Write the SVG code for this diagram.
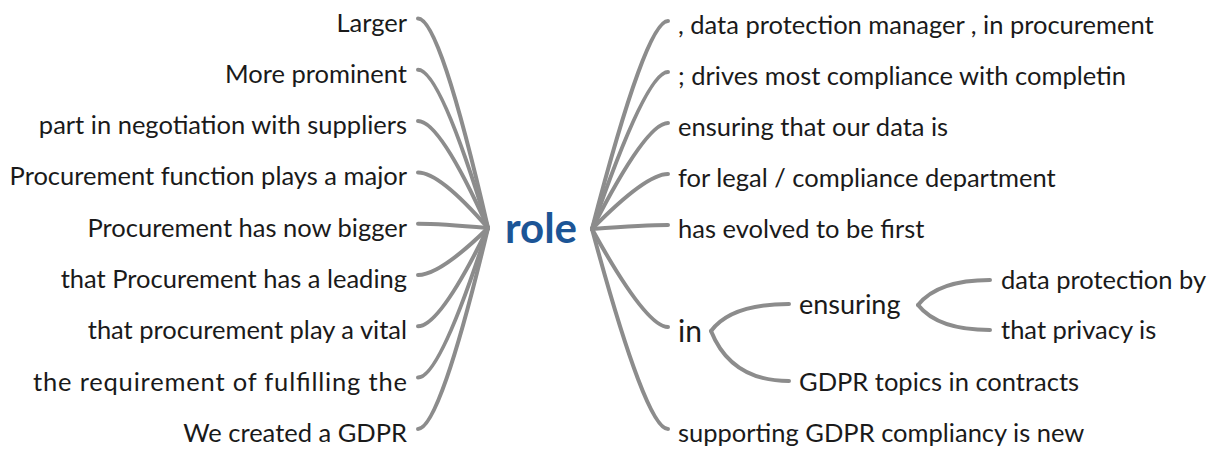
<svg xmlns="http://www.w3.org/2000/svg" width="1213" height="450" viewBox="0 0 1213 450">
<style>
text{font-family:Lato,"Open Sans",sans-serif;fill:#1a1a1a;font-size:25.5px}
.l{text-anchor:end}
.root{font-size:42px;font-weight:bold;fill:#1c5596}
.big{font-size:30px}
.mid{font-size:27px}
path{fill:none;stroke:#8c8c8c;stroke-width:4;stroke-linecap:round}
</style>
<rect width="1213" height="450" fill="#fff"/>
<g id="connectors">
<path d="M418 18.5 Q440 18.5 488 228"/>
<path d="M418 69.8 Q440 69.8 488 228"/>
<path d="M418 121.1 Q440 121.1 488 228"/>
<path d="M418 172.4 Q440 172.4 488 228"/>
<path d="M418 223.7 Q440 223.7 488 228"/>
<path d="M418 275 Q440 275 488 228"/>
<path d="M418 326.3 Q440 326.3 488 228"/>
<path d="M418 377.6 Q440 377.6 488 228"/>
<path d="M418 428.9 Q440 428.9 488 228"/>
<path d="M668 21 Q646 21 592 229"/>
<path d="M668 72 Q646 72 592 229"/>
<path d="M668 123 Q646 123 592 229"/>
<path d="M668 174 Q646 174 592 229"/>
<path d="M668 225 Q646 225 592 229"/>
<path d="M668 327 Q646 327 592 229"/>
<path d="M668 429 Q646 429 592 229"/>
<path d="M711 331 Q731 304 789 304"/>
<path d="M711 331 Q731 381 789 381"/>
<path d="M918 305 Q938 280 990 280"/>
<path d="M918 305 Q938 330 990 330"/>
</g>
<g id="root"><text class="root" x="505" y="243">role</text></g>
<g id="l1"><text class="l" x="407" y="31.5">Larger</text></g>
<g id="l2"><text class="l" x="407" y="82.8">More prominent</text></g>
<g id="l3"><text class="l" x="407" y="134.1">part in negotiation with suppliers</text></g>
<g id="l4"><text class="l" x="407" y="185.4">Procurement function plays a major</text></g>
<g id="l5"><text class="l" x="407" y="236.7">Procurement has now bigger</text></g>
<g id="l6"><text class="l" x="407" y="288">that Procurement has a leading</text></g>
<g id="l7"><text class="l" x="407" y="339.3">that procurement play a vital</text></g>
<g id="l8"><text class="l" x="407" y="390.6" textLength="374" lengthAdjust="spacing">the requirement of fulfilling the</text></g>
<g id="l9"><text class="l" x="407" y="441.9">We created a GDPR</text></g>
<g id="r1"><text x="678" y="33.5">, data protection manager , in procurement</text></g>
<g id="r2"><text x="678" y="84.5">; drives most compliance with completin</text></g>
<g id="r3"><text x="678" y="135.5">ensuring that our data is</text></g>
<g id="r4"><text x="678" y="186.5">for legal / compliance department</text></g>
<g id="r5"><text x="678" y="237.5">has evolved to be first</text></g>
<g id="r6"><text class="big" x="678" y="341.5">in</text></g>
<g id="r7"><text x="678" y="441.5">supporting GDPR compliancy is new</text></g>
<g id="s1"><text class="mid" x="799" y="314">ensuring</text></g>
<g id="s2"><text x="799" y="390.5">GDPR topics in contracts</text></g>
<g id="s3"><text x="1001" y="289">data protection by</text></g>
<g id="s4"><text x="1001" y="339">that privacy is</text></g>
</svg>
